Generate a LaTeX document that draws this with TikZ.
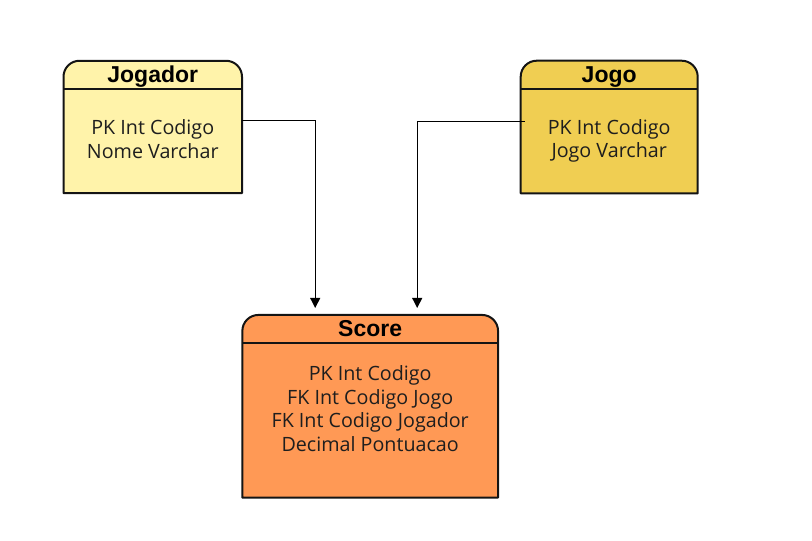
\documentclass[tikz,border=0pt]{standalone}
\usepackage{fontspec}
\setmainfont{Open Sans}
\newfontfamily\hdrfont{Liberation Sans}
\usetikzlibrary{arrows.meta}
\definecolor{jogadorfill}{RGB}{255,243,170}
\definecolor{jogofill}{RGB}{240,206,82}
\definecolor{scorefill}{RGB}{255,153,85}
\definecolor{edgec}{RGB}{20,20,20}
\definecolor{textc}{RGB}{30,30,30}
\tikzset{
  entity/.style={inner sep=0pt, outer sep=0pt},
  boxline/.style={draw=edgec, line width=2pt, line join=round},
  sepline/.style={draw=edgec, line width=1.6pt},
  hdr/.style={anchor=base, font=\hdrfont\bfseries\fontsize{23}{27}\selectfont, text=black, inner sep=0pt},
  body/.style={anchor=base, align=center, font=\fontsize{19.7}{23.7}\selectfont, text=textc, inner sep=0pt},
  conn/.style={draw=black, line width=1pt, -{Triangle[width=10pt,length=10pt]}, shorten >=7pt}
}
\begin{document}
\begin{tikzpicture}[x=1pt,y=-1pt]
\useasboundingbox (0,0) rectangle (812,541);
% Jogador
\node[entity, minimum width=178.5pt, minimum height=132.3pt] (jogador) at (152.75,126.9) {};
\draw[boxline, fill=jogadorfill] (jogador.south west) [rounded corners=16pt] -- (jogador.north west) -- (jogador.north east) [sharp corners] -- (jogador.south east) -- cycle;
\draw[sepline] ([yshift=-28pt]jogador.north west) -- ([yshift=-28pt]jogador.north east);
\node[hdr] (jogadorhdr) at ([yshift=-21.6pt]jogador.north) {Jogador};
\node[body] (jogadorbody) at ([yshift=-97.6pt]jogador.north) {PK Int Codigo\\Nome Varchar};
% Jogo
\node[entity, minimum width=177pt, minimum height=132.6pt] (jogo) at (609.2,127) {};
\draw[boxline, fill=jogofill] (jogo.south west) [rounded corners=16pt] -- (jogo.north west) -- (jogo.north east) [sharp corners] -- (jogo.south east) -- cycle;
\draw[sepline] ([yshift=-28pt]jogo.north west) -- ([yshift=-28pt]jogo.north east);
\node[hdr] (jogohdr) at ([yshift=-21.6pt]jogo.north) {Jogo};
\node[body] (jogobody) at ([yshift=-97.2pt]jogo.north) {PK Int Codigo\\Jogo Varchar};
% Score
\node[entity, minimum width=255.7pt, minimum height=182.7pt] (score) at (370.2,406.3) {};
\draw[boxline, fill=scorefill] (score.south west) [rounded corners=16pt] -- (score.north west) -- (score.north east) [sharp corners] -- (score.south east) -- cycle;
\draw[sepline] ([yshift=-28pt]score.north west) -- ([yshift=-28pt]score.north east);
\node[hdr] (scorehdr) at ([yshift=-21.7pt]score.north) {Score};
\node[body] (scorebody) at ([yshift=-136.7pt]score.north) {PK Int Codigo\\FK Int Codigo Jogo\\FK Int Codigo Jogador\\Decimal Pontuacao};
% connectors
\draw[conn] ([yshift=6pt]jogador.east) -| ([xshift=-55pt]score.north);
\draw[conn] ([xshift=4pt,yshift=6pt]jogo.west) -| ([xshift=47pt]score.north);
\end{tikzpicture}
\end{document}
